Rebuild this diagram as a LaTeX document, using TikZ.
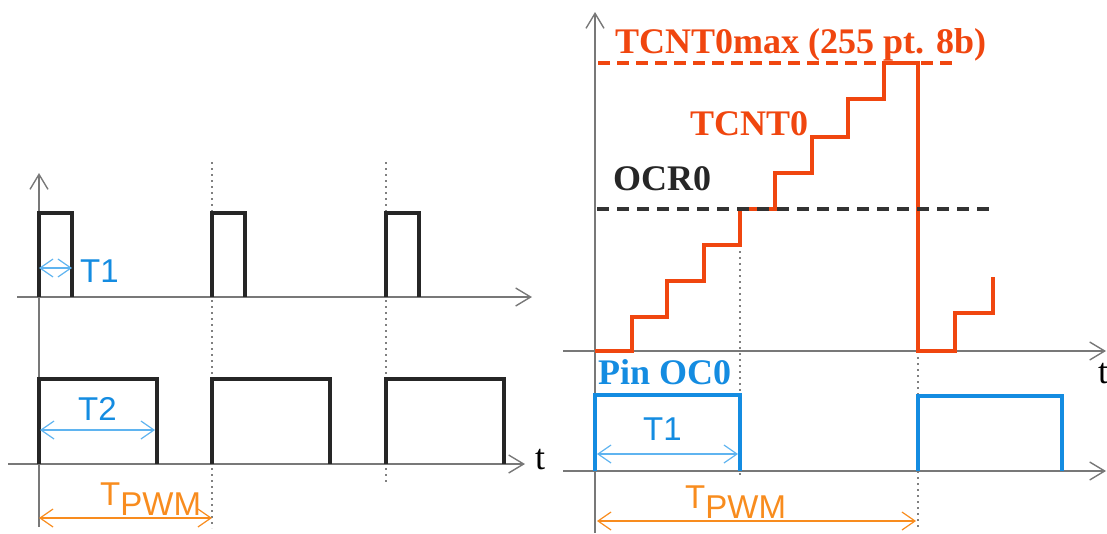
\documentclass[tikz,border=0pt]{standalone}
\usepackage{fontspec}
\setmainfont{Liberation Serif}
\setsansfont{Liberation Sans}
\usepackage{xcolor}
\usetikzlibrary{arrows.meta}

\definecolor{pulseblue}{RGB}{20,140,225}
\definecolor{dimblue}{RGB}{95,180,240}
\definecolor{cntred}{RGB}{240,70,15}
\definecolor{pwmorange}{RGB}{248,140,30}
\definecolor{axisgray}{RGB}{120,120,120}

\begin{document}
\begin{tikzpicture}[x=1pt, y=-1pt,
    axis/.style={draw=axisgray, line width=1.4pt, -{Straight Barb[length=15pt,width=18pt]}},
    signal/.style={draw=black!85, line width=3.5pt},
    guide/.style={draw=gray, line width=1.6pt, dash pattern=on 2pt off 4pt},
    dim/.style={line width=1.2pt, {Straight Barb[length=13pt,width=18pt]}-{Straight Barb[length=13pt,width=18pt]}},
    lbl/.style={font=\fontsize{36}{40}\selectfont\bfseries, inner sep=0pt, anchor=base west},
    tlbl/.style={font=\sffamily\fontsize{33}{36}\selectfont, inner sep=0pt, anchor=base west}]

    \useasboundingbox (0,0) rectangle (1107,533);

    % left: two pulse trains
    \draw [guide] (212,162) -- (212,528);
    \draw [guide] (386,162) -- (386,482);
    \draw [axis] (39,527) -- (39,173);
    \draw [axis] (17,297) -- (532,297);
    \draw [axis] (8,464) -- (525,464);
    \node (tleft) [font=\fontsize{36}{40}\selectfont, inner sep=0pt, anchor=base west] at (535,469) {t};

    \foreach \x in {39,212,386} {
        \draw [signal] (\x,297) -- (\x,213) -- (\x+33,213) -- (\x+33,297);
        \draw [signal] (\x,464) -- (\x,379) -- (\x+118,379) -- (\x+118,464);
    }

    \draw [dim, dimblue] (39,268) -- (72,268);
    \node (t1left) [tlbl, text=pulseblue] at (80,282) {T1};
    \draw [dim, dimblue] (40,430) -- (155,430);
    \node (t2left) [tlbl, text=pulseblue] at (78,420) {T2};
    \draw [dim, pwmorange] (39,518) -- (212,518);
    \node (pwmleft) [tlbl, text=pwmorange] at (100,505) {T\raisebox{-10pt}{PWM}};

    % right: counter and output pin
    \draw [guide] (740,245) -- (740,475);
    \draw [guide] (918,351) -- (918,530);
    \draw [axis] (595,533) -- (595,12);
    \draw [axis] (563,351) -- (1106,351);
    \draw [axis] (563,471) -- (1106,471);
    \node (tright) [font=\fontsize{36}{40}\selectfont, inner sep=0pt, anchor=base west] at (1098,383) {t};

    \draw [cntred, line width=3.5pt, dash pattern=on 12pt off 7pt] (598,63) -- (958,63);
    \node (maxlbl) [lbl, text=cntred] at (615,53) {TCNT0max (255 pt. 8b)};
    \node (cntlbl) [lbl, text=cntred] at (690,135) {TCNT0};

    \draw [cntred, line width=3.5pt] (595,351) -| (632,317) -| (667,281) -| (704,245) -| (740,209)
        -| (775,173) -| (812,137) -| (848,99) -| (884,63) -- (918,63) -- (918,351)
        -| (955,313) -| (993,277);

    \draw [black!80, line width=3.5pt, dash pattern=on 12pt off 8pt] (597,209) -- (990,209);
    \node (ocrlbl) [lbl, text=black!85] at (613,190) {OCR0};

    \node (pinlbl) [lbl, text=pulseblue] at (598,384) {Pin OC0};
    \draw [pulseblue, line width=3.5pt] (595,471) -- (595,395) -- (740,395) -- (740,471);
    \draw [pulseblue, line width=3.5pt] (918,471) -- (918,396) -- (1062,396) -- (1062,471);

    \draw [dim, dimblue] (597,454) -- (738,454);
    \node (t1right) [tlbl, text=pulseblue] at (643,440) {T1};
    \draw [dim, pwmorange] (597,521) -- (916,521);
    \node (pwmright) [tlbl, text=pwmorange] at (685,508) {T\raisebox{-10pt}{PWM}};

\end{tikzpicture}
\end{document}
